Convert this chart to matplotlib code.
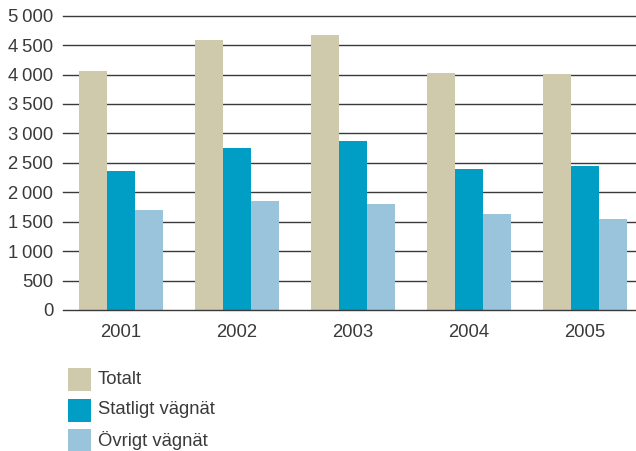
import matplotlib
matplotlib.use("Agg")
import matplotlib.pyplot as plt
import numpy as np
from matplotlib.patches import Rectangle
from matplotlib.ticker import FuncFormatter

plt.rcParams['font.family'] = ['Liberation Sans', 'DejaVu Sans']

years = ["2001", "2002", "2003", "2004", "2005"]
totalt = [4060, 4590, 4670, 4030, 4010]
statligt = [2360, 2750, 2870, 2400, 2450]
ovrigt = [1700, 1850, 1800, 1630, 1550]
series_names = ["Totalt", "Statligt vägnät", "Övrigt vägnät"]
colors = ["#D0CAAC", "#009DC4", "#99C4DB"]
yticks = [0, 500, 1000, 1500, 2000, 2500, 3000, 3500, 4000, 4500, 5000]

W, H = 636, 451
fig = plt.figure(figsize=(W/100, H/100), dpi=100)
ax = fig.add_axes([63/W, 141/H, 580/W, 294.3/H])

x = np.arange(len(years))
w = 0.2414
for i, vals in enumerate([totalt, statligt, ovrigt]):
    ax.bar(x + (i - 1) * w, vals, width=w, color=colors[i], zorder=3, linewidth=0)

ax.set_xlim(-0.5, len(years) - 0.5)
ax.set_ylim(0, 5000)
ax.set_yticks(yticks)
ax.yaxis.set_major_formatter(FuncFormatter(lambda v, p: f"{int(v):,}".replace(",", "\u2009")))
ax.set_xticks(x)
ax.set_xticklabels(years)
for t in yticks:
    ax.axhline(t, color='#3a3a3a', linewidth=1.0, zorder=0 if t > 0 else 4, clip_on=False)
for s in ax.spines.values():
    s.set_visible(False)
ax.tick_params(axis='both', length=0, labelsize=13.3, labelcolor='#3a3a3a')
ax.tick_params(axis='y', pad=7)
ax.tick_params(axis='x', pad=10)

# legend
for i, name in enumerate(series_names):
    yc = [379, 410, 440][i]
    fig.patches.append(Rectangle((68/W, 1 - (yc + 11.5)/H), 23/W, 23/H,
                                 transform=fig.transFigure, facecolor=colors[i],
                                 edgecolor='none'))
    fig.text(98/W, 1 - yc/H, name, fontsize=13.3, color='#3a3a3a', va='center', ha='left')

fig.savefig("out.png", dpi=100)
